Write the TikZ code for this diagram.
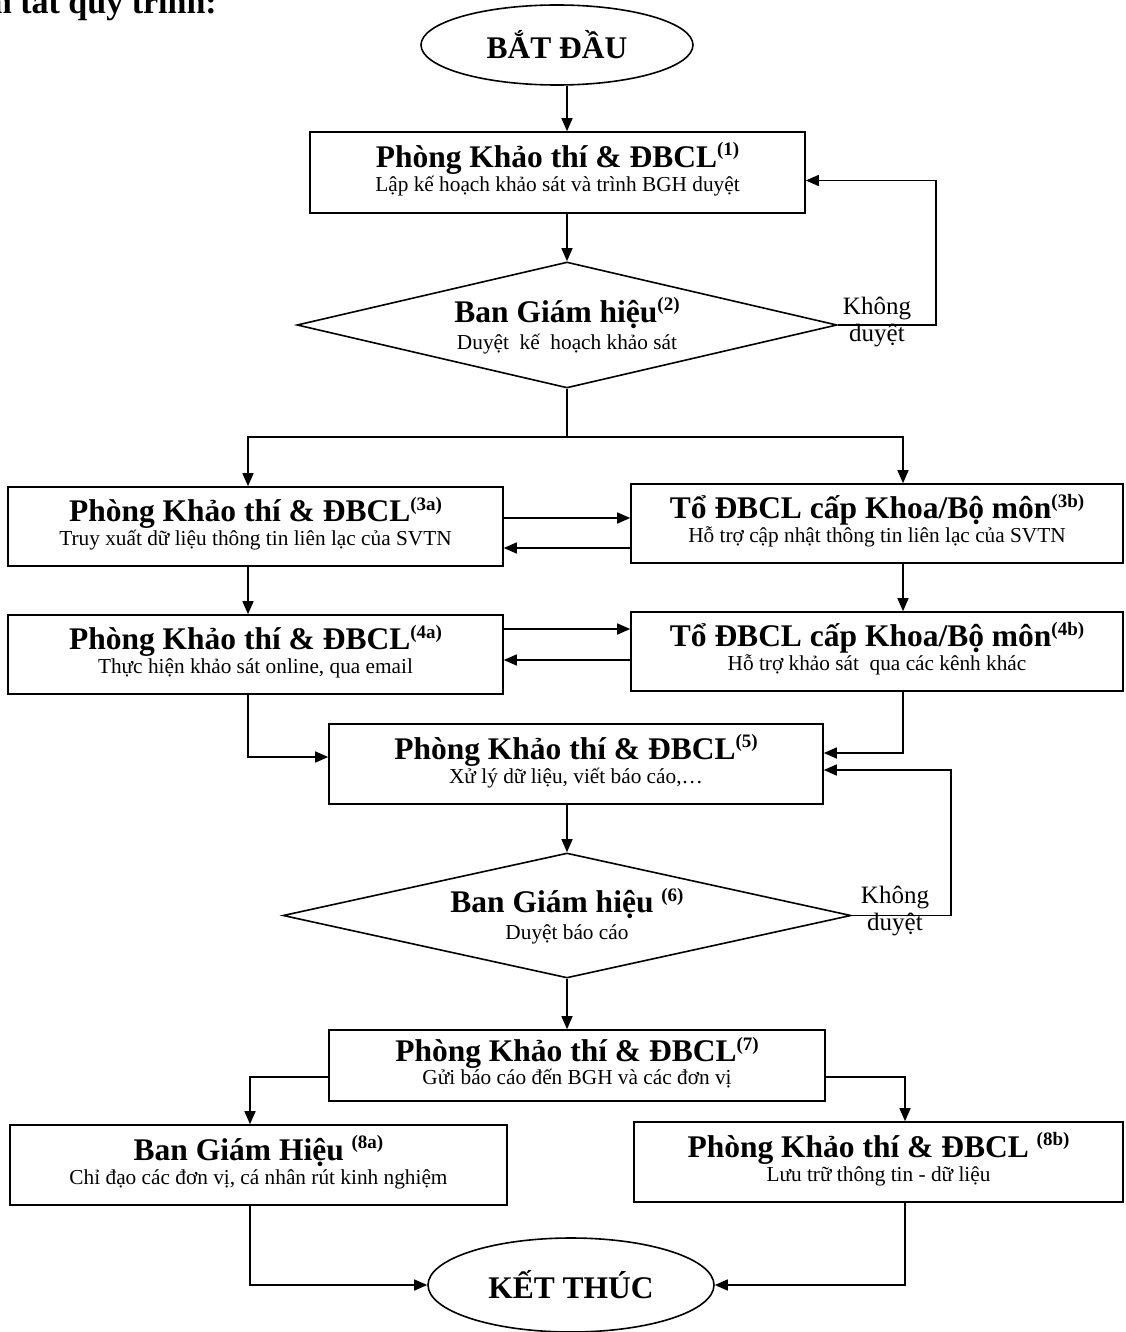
\documentclass[tikz,border=0pt]{standalone}
\usepackage{fontspec}
\setmainfont{Liberation Serif}
\usetikzlibrary{shapes.geometric,arrows.meta,calc}
\newcommand\ttlfont{\fontsize{31.5}{34}\selectfont\bfseries}
\newcommand\subfont{\fontsize{21.3}{23}\selectfont}
\newcommand\kdfont{\fontsize{25}{27}\selectfont}
\newcommand\supx[1]{\raisebox{11.5pt}{\fontsize{19}{19}\selectfont\bfseries #1}}
\begin{document}
\begin{tikzpicture}[x=1pt,y=-1pt,
  box/.style={draw, line width=1.6pt, inner sep=0pt},
  ttl/.style={anchor=base, inner sep=0pt, font=\ttlfont},
  sub/.style={anchor=base, inner sep=0pt, font=\subfont},
  kd/.style={align=center, inner sep=0pt, font=\kdfont},
  arr/.style={line width=1.5pt, -{Triangle[length=13pt,width=11pt]}},
  ln/.style={line width=1.5pt}]
\useasboundingbox (0,0) rectangle (1125,1332);
\fill[white] (0,0) rectangle (1125,1332);

\node[anchor=base east, inner sep=0pt, font=\fontsize{34}{36}\selectfont\bfseries] (head) at (217,14) {Tóm tắt quy trình:};

% column coordinates
\coordinate (xl) at (248,0);
\coordinate (xr) at (903,0);
\coordinate (xl2) at (250,0);
\coordinate (xr2) at (905,0);

% start
\node[draw, ellipse, line width=1.6pt, minimum width=272pt, minimum height=80pt, inner sep=0pt, font=\ttlfont] (start) at (557,45) {BẮT ĐẦU};

% box 1
\node[box, minimum width=495pt, minimum height=81pt] (b1) at (557.5,172.5) {};
\node[ttl] (b1t) at ([yshift=5pt]b1.center) {Phòng Khảo thí \& ĐBCL\supx{(1)}};
\node[sub] (b1s) at ([yshift=-19pt]b1.center) {Lập kế hoạch khảo sát và trình BGH duyệt};

% diamond 1
\node[draw, diamond, line width=1.6pt, minimum width=540pt, minimum height=126pt, inner sep=0pt] (d1) at (567,325) {};
\node[ttl] (d1t) at ([yshift=3pt]d1.center) {Ban Giám hiệu\supx{(2)}};
\node[sub] (d1s) at ([yshift=-24pt]d1.center) {Duyệt\ \ kế\ \ hoạch khảo sát};
\node[kd] (k1) at (877,322) {Không\\duyệt};

% box 3a / 3b
\node[box, minimum width=495pt, minimum height=79pt] (b3a) at (255.5,526.5) {};
\node[ttl] (b3at) at ([yshift=5pt]b3a.center) {Phòng Khảo thí \& ĐBCL\supx{(3a)}};
\node[sub] (b3as) at ([yshift=-19pt]b3a.center) {Truy xuất dữ liệu thông tin liên lạc của SVTN};
\node[box, minimum width=492pt, minimum height=79pt] (b3b) at (877,523.5) {};
\node[ttl] (b3bt) at ([yshift=5pt]b3b.center) {Tổ ĐBCL cấp Khoa/Bộ môn\supx{(3b)}};
\node[sub] (b3bs) at ([yshift=-19pt]b3b.center) {Hỗ trợ cập nhật thông tin liên lạc của SVTN};

% box 4a / 4b
\node[box, minimum width=495pt, minimum height=79pt] (b4a) at (255.5,654.5) {};
\node[ttl] (b4at) at ([yshift=5pt]b4a.center) {Phòng Khảo thí \& ĐBCL\supx{(4a)}};
\node[sub] (b4as) at ([yshift=-19pt]b4a.center) {Thực hiện khảo sát online, qua email};
\node[box, minimum width=492pt, minimum height=79pt] (b4b) at (877,651.5) {};
\node[ttl] (b4bt) at ([yshift=5pt]b4b.center) {Tổ ĐBCL cấp Khoa/Bộ môn\supx{(4b)}};
\node[sub] (b4bs) at ([yshift=-19pt]b4b.center) {Hỗ trợ khảo sát\ \ qua các kênh khác};

% box 5
\node[box, minimum width=494pt, minimum height=80pt] (b5) at (576,764) {};
\node[ttl] (b5t) at ([yshift=5pt]b5.center) {Phòng Khảo thí \& ĐBCL\supx{(5)}};
\node[sub] (b5s) at ([yshift=-19pt]b5.center) {Xử lý dữ liệu, viết báo cáo,…};

% diamond 2
\node[draw, diamond, line width=1.6pt, minimum width=568pt, minimum height=125pt, inner sep=0pt] (d2) at (567,915.5) {};
\node[ttl] (d2t) at ([yshift=3pt]d2.center) {Ban Giám hiệu \supx{(6)}};
\node[sub] (d2s) at ([yshift=-24pt]d2.center) {Duyệt báo cáo};
\node[kd] (k2) at (895,911) {Không\\duyệt};

% box 7
\node[box, minimum width=496pt, minimum height=71pt] (b7) at (577,1065.5) {};
\node[ttl] (b7t) at ([yshift=4pt]b7.center) {Phòng Khảo thí \& ĐBCL\supx{(7)}};
\node[sub] (b7s) at ([yshift=-19pt]b7.center) {Gửi báo cáo đến BGH và các đơn vị};

% box 8a / 8b
\node[box, minimum width=497pt, minimum height=80pt] (b8a) at (258.5,1165) {};
\node[ttl] (b8at) at ([yshift=5pt]b8a.center) {Ban Giám Hiệu \supx{(8a)}};
\node[sub] (b8as) at ([yshift=-19pt]b8a.center) {Chỉ đạo các đơn vị, cá nhân rút kinh nghiệm};
\node[box, minimum width=489pt, minimum height=80pt] (b8b) at (878.5,1162) {};
\node[ttl] (b8bt) at ([yshift=5pt]b8b.center) {Phòng Khảo thí \& ĐBCL \supx{(8b)}};
\node[sub] (b8bs) at ([yshift=-19pt]b8b.center) {Lưu trữ thông tin - dữ liệu};

% end
\node[draw, ellipse, line width=1.6pt, minimum width=286pt, minimum height=94pt, inner sep=0pt, font=\ttlfont] (end) at (571,1285) {KẾT THÚC};

% connectors
\draw[arr] (start.south -| d1.north) -- (b1.north -| d1.north);
\draw[arr] (b1.south -| d1.north) -- (d1.north);
\draw[arr] (d1.east) -- ++(98,0) |- ([yshift=-8pt]b1.east);

\coordinate (split) at (567,437);
\draw[ln] (d1.south) -- (split);
\draw[arr] (split) -| (xl |- b3a.north);
\draw[arr] (split) -| (xr |- b3b.north);

\draw[arr] (b3a.east |- 0,518) -- (b3b.west |- 0,518);
\draw[arr] (b3b.west |- 0,548) -- (b3a.east |- 0,548);

\draw[arr] (xl |- b3a.south) -- (xl |- b4a.north);
\draw[arr] (xr |- b3b.south) -- (xr |- b4b.north);

\draw[arr] (b4a.east |- 0,629) -- (b4b.west |- 0,629);
\draw[arr] (b4b.west |- 0,660) -- (b4a.east |- 0,660);

\draw[arr] (xl |- b4a.south) |- (b5.west |- 0,757);
\draw[arr] (xr |- b4b.south) |- (b5.east |- 0,753);

\draw[arr] (b5.south -| d2.north) -- (d2.north);
\draw[arr] (d2.east) -- ++(99,0) |- (b5.east |- 0,770);

\draw[arr] (d2.south) -- (b7.north -| d2.south);

\draw[arr] (b7.west |- 0,1077) -| (xl2 |- b8a.north);
\draw[arr] (b7.east |- 0,1077) -| (xr2 |- b8b.north);

\draw[arr] (xl2 |- b8a.south) |- (end.west);
\draw[arr] (xr2 |- b8b.south) |- (end.east);
\end{tikzpicture}
\end{document}
